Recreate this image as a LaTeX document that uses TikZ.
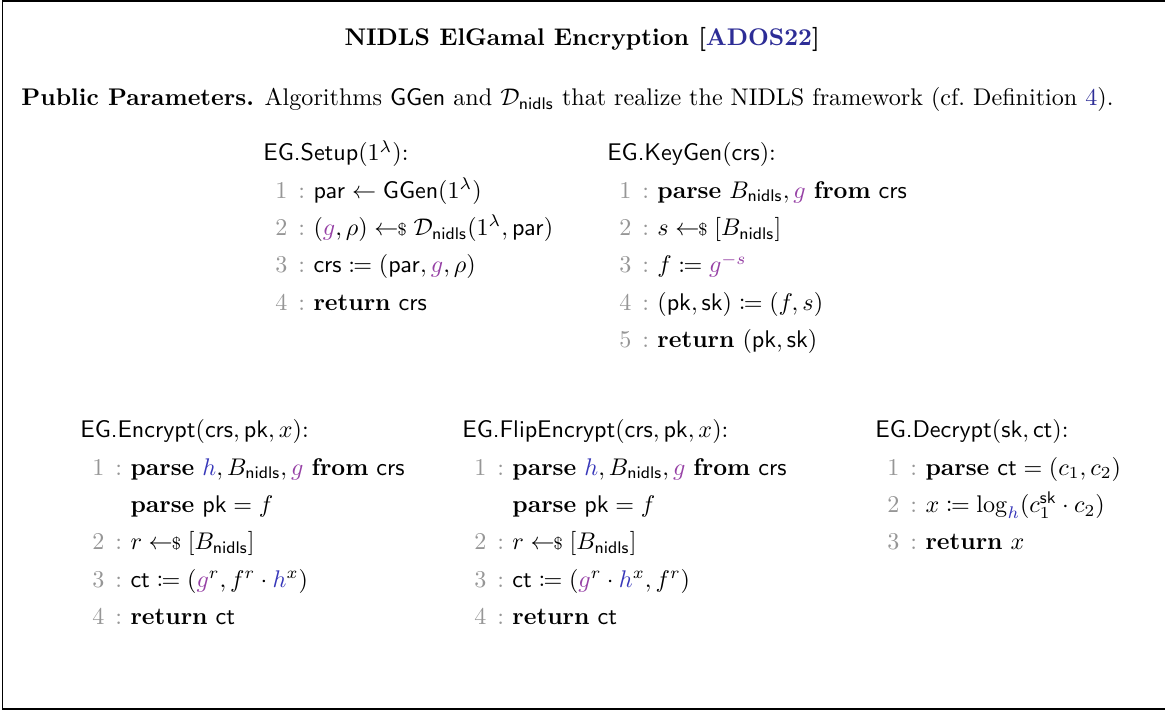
\documentclass[tikz,border=0pt]{standalone}
\usepackage{mathtools}
\usepackage{amssymb}

\definecolor{citeblue}{RGB}{45,45,150}
\definecolor{hblue}{RGB}{55,55,185}
\definecolor{gpurple}{RGB}{150,65,165}
\definecolor{lngray}{RGB}{150,150,150}

\newcommand{\nidls}{\mathsf{nidls}}
\newcommand{\gv}{{\color{gpurple}g}}
\newcommand{\hv}{{\color{hblue}h}}
\newcommand{\samp}{\mathrel{\leftarrow\mkern-6mu{\scriptstyle\$}}}
\newcommand{\lnum}[1]{\textcolor{lngray}{$#1$\hspace{4.5pt}:}}
\newcommand{\kw}[1]{\mathbf{#1}}
\renewcommand{\arraystretch}{1.29}

\tikzset{
  algo/.style={anchor=base west, inner sep=0pt},
  frame/.style={line width=0.8pt}
}

\begin{document}
\begin{tikzpicture}
    \useasboundingbox (0,0) rectangle (16.99,10.37);
    \draw [frame] (0.036,0.03) rectangle (17.2,10.355);

    % heading
    \node [anchor=base, inner sep=0pt] (title) at (8.49,9.70)
      {\textbf{NIDLS ElGamal Encryption [\textcolor{citeblue}{ADOS22}]}};
    \node [anchor=base west, inner sep=0pt] (params) at (0.306,8.825)
      {\textbf{Public Parameters.} Algorithms $\mathsf{GGen}$ and $\mathcal{D}_{\nidls}$ that realize the NIDLS framework (cf.~Definition~\textcolor{citeblue}{4}).};

    % upper row
    \node [algo] (setup) at (3.835,8.023) {%
      \begin{tabular}[t]{@{\hspace{5pt}}r@{\hspace{3.5pt}}l@{}}
        \multicolumn{2}{@{}l@{}}{\textsf{EG.Setup}$(1^\lambda)$:}\\
        \lnum{1} & $\mathsf{par} \gets \mathsf{GGen}(1^\lambda)$\\
        \lnum{2} & $(\gv,\rho) \samp \mathcal{D}_{\nidls}(1^\lambda,\mathsf{par})$\\
        \lnum{3} & $\mathsf{crs} \coloneqq (\mathsf{par},\gv,\rho)$\\
        \lnum{4} & $\kw{return}\ \mathsf{crs}$
      \end{tabular}};
    \node [algo] (keygen) at (8.85,8.023) {%
      \begin{tabular}[t]{@{\hspace{5pt}}r@{\hspace{3.5pt}}l@{}}
        \multicolumn{2}{@{}l@{}}{\textsf{EG.KeyGen}$(\mathsf{crs})$:}\\
        \lnum{1} & $\kw{parse}\ B_{\nidls},\gv\ \kw{from}\ \mathsf{crs}$\\
        \lnum{2} & $s \samp [B_{\nidls}]$\\
        \lnum{3} & $f \coloneqq \gv^{\color{gpurple}-s}$\\
        \lnum{4} & $(\mathsf{pk},\mathsf{sk}) \coloneqq (f,s)$\\
        \lnum{5} & $\kw{return}\ (\mathsf{pk},\mathsf{sk})$
      \end{tabular}};

    % lower row
    \node [algo] (enc) at (1.166,3.984) {%
      \begin{tabular}[t]{@{\hspace{5pt}}r@{\hspace{3.5pt}}l@{}}
        \multicolumn{2}{@{}l@{}}{\textsf{EG.Encrypt}$(\mathsf{crs},\mathsf{pk},x)$:}\\
        \lnum{1} & $\kw{parse}\ \hv,B_{\nidls},\gv\ \kw{from}\ \mathsf{crs}$\\
                 & $\kw{parse}\ \mathsf{pk} = f$\\
        \lnum{2} & $r \samp [B_{\nidls}]$\\
        \lnum{3} & $\mathsf{ct} \coloneqq (\gv^r, f^r\cdot\hv^x)$\\
        \lnum{4} & $\kw{return}\ \mathsf{ct}$
      \end{tabular}};
    \node [algo] (flipenc) at (6.736,3.984) {%
      \begin{tabular}[t]{@{\hspace{5pt}}r@{\hspace{3.5pt}}l@{}}
        \multicolumn{2}{@{}l@{}}{\textsf{EG.FlipEncrypt}$(\mathsf{crs},\mathsf{pk},x)$:}\\
        \lnum{1} & $\kw{parse}\ \hv,B_{\nidls},\gv\ \kw{from}\ \mathsf{crs}$\\
                 & $\kw{parse}\ \mathsf{pk} = f$\\
        \lnum{2} & $r \samp [B_{\nidls}]$\\
        \lnum{3} & $\mathsf{ct} \coloneqq (\gv^r\cdot\hv^x, f^r)$\\
        \lnum{4} & $\kw{return}\ \mathsf{ct}$
      \end{tabular}};
    \node [algo] (dec) at (12.76,3.984) {%
      \begin{tabular}[t]{@{\hspace{5pt}}r@{\hspace{3.5pt}}l@{}}
        \multicolumn{2}{@{}l@{}}{\textsf{EG.Decrypt}$(\mathsf{sk},\mathsf{ct})$:}\\
        \lnum{1} & $\kw{parse}\ \mathsf{ct} = (c_1,c_2)$\\
        \lnum{2} & $x \coloneqq \log_{\hv}(c_1^{\mathsf{sk}}\cdot c_2)$\\
        \lnum{3} & $\kw{return}\ x$
      \end{tabular}};
\end{tikzpicture}
\end{document}
